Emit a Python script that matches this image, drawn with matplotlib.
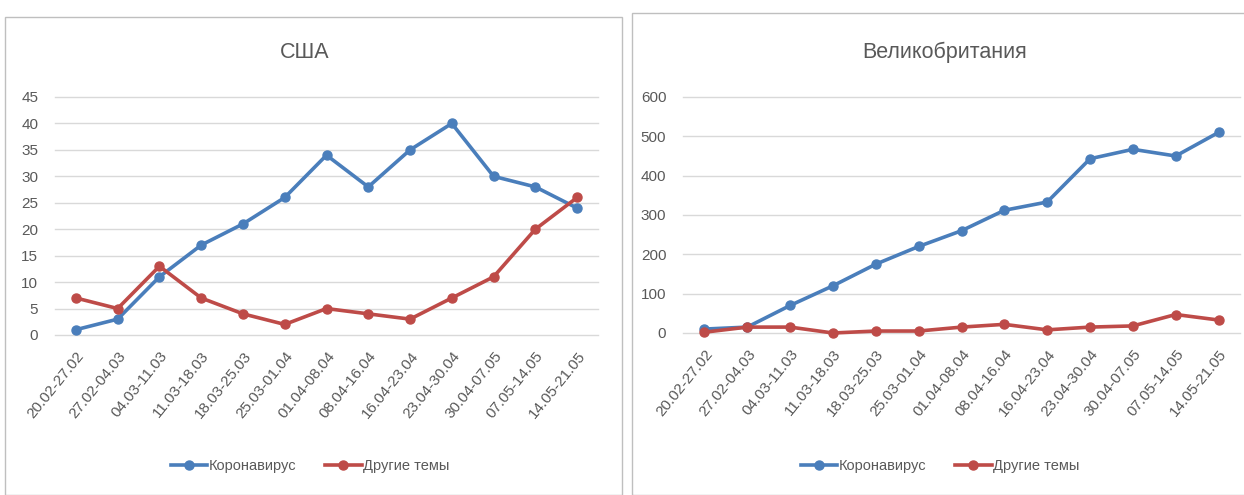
import matplotlib
matplotlib.use("Agg")
import matplotlib.pyplot as plt
from matplotlib.patches import Rectangle
from matplotlib.lines import Line2D

plt.rcParams['font.family'] = ['Liberation Sans', 'DejaVu Sans']

weeks = ["20.02-27.02", "27.02-04.03", "04.03-11.03", "11.03-18.03", "18.03-25.03",
         "25.03-01.04", "01.04-08.04", "08.04-16.04", "16.04-23.04", "23.04-30.04",
         "30.04-07.05", "07.05-14.05", "14.05-21.05"]
usa_corona = [1, 3, 11, 17, 21, 26, 34, 28, 35, 40, 30, 28, 24]
usa_other = [7, 5, 13, 7, 4, 2, 5, 4, 3, 7, 11, 20, 26]
uk_corona = [10, 15, 70, 120, 175, 220, 260, 312, 333, 443, 467, 450, 510]
uk_other = [2, 15, 15, 0, 5, 5, 15, 22, 8, 15, 18, 47, 33]

series_names = ["Коронавирус", "Другие темы"]
blue = "#4A7EBB"
red = "#BE4B48"
text_col = "#595959"

W, H = 1244, 495
fig = plt.figure(figsize=(W / 100, H / 100), dpi=100)

# panel borders
fig.patches.append(Rectangle((5 / W, 0), 617 / W, 1 - 17 / H, transform=fig.transFigure,
                             fill=False, edgecolor="#BFBFBF", linewidth=1))
fig.patches.append(Rectangle((632 / W, 0), 620 / W, 1 - 13 / H, transform=fig.transFigure,
                             fill=False, edgecolor="#BFBFBF", linewidth=1))

panels = [
    dict(rect=[55 / W, 1 - 335 / H, 543 / W, 238 / H], title="США", tx=305 / W, ty=1 - 53 / H,
         data=(usa_corona, usa_other), ylim=(0, 45), ticks=list(range(0, 46, 5)), lx=310 / W),
    dict(rect=[683 / W, 1 - 333 / H, 557 / W, 236 / H], title="Великобритания", tx=945 / W, ty=1 - 52 / H,
         data=(uk_corona, uk_other), ylim=(0, 600), ticks=list(range(0, 601, 100)), lx=940 / W),
]

x = list(range(len(weeks)))
for p in panels:
    ax = fig.add_axes(p["rect"])
    c, o = p["data"]
    ax.plot(x, c, color=blue, lw=2.6, marker="o", ms=6.5, zorder=3, solid_capstyle="round",
            clip_on=False)
    ax.plot(x, o, color=red, lw=2.6, marker="o", ms=6.5, zorder=4, solid_capstyle="round",
            clip_on=False)
    ax.set_xlim(-0.5, len(weeks) - 0.5)
    ax.set_ylim(*p["ylim"])
    ax.set_yticks(p["ticks"])
    ax.set_xticks(x)
    ax.set_xticklabels(weeks, rotation=51, ha="right", rotation_mode="anchor")
    ax.tick_params(axis="both", length=0, colors=text_col, labelsize=11)
    ax.tick_params(axis="y", pad=12)
    ax.tick_params(axis="x", pad=10)
    ax.grid(axis="y", color="#D9D9D9", lw=1)
    for gl in ax.get_ygridlines():
        gl.set_clip_on(False)
    ax.set_axisbelow(True)
    for s in ax.spines.values():
        s.set_visible(False)
    fig.text(p["tx"], p["ty"], p["title"], ha="center", va="center", fontsize=15.5, color=text_col)
    handles = [Line2D([], [], color=blue, lw=2.6, marker="o", ms=6.5),
               Line2D([], [], color=red, lw=2.6, marker="o", ms=6.5)]
    fig.legend(handles, series_names, loc="center", bbox_to_anchor=(p["lx"], 1 - 466 / H),
               ncol=2, frameon=False, fontsize=10.5, labelcolor=text_col, handlelength=2.5,
               handletextpad=0.1, columnspacing=2.0)

fig.savefig("out.png", dpi=100)
